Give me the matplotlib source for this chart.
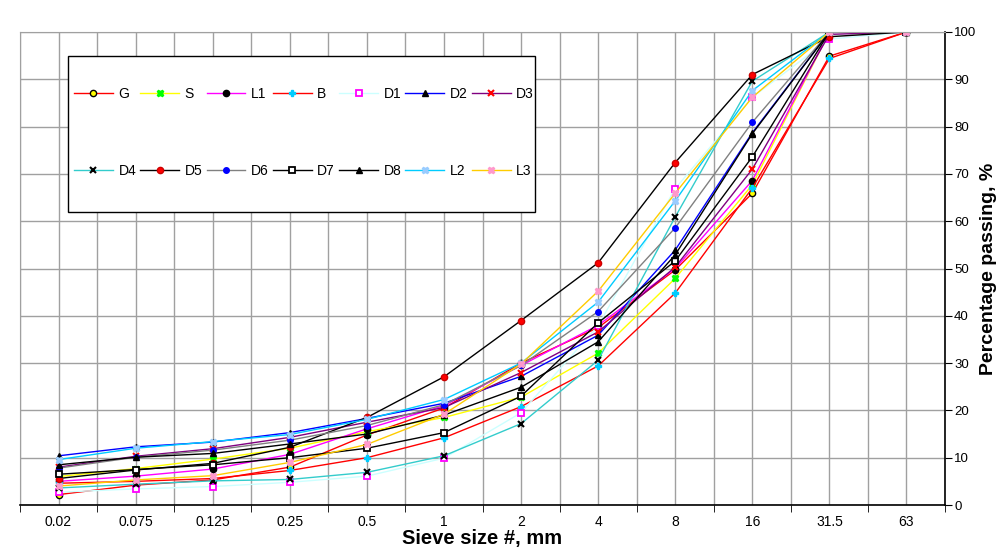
import numpy as np
import matplotlib
matplotlib.use("Agg")
import matplotlib.pyplot as plt
from matplotlib.patches import Rectangle

plt.rcParams['font.family'] = ['Liberation Sans', 'DejaVu Sans']

sizes = ['0.02', '0.075', '0.125', '0.25', '0.5', '1', '2', '4', '8', '16', '31.5', '63']

G  = [2.2, 4.2, 5.3, 8.0, 14.8, 20.5, 30.0, 37.5, 49.7, 65.9, 94.9, 100]
S  = [6.0, 7.7, 9.7, 12.0, 15.5, 18.5, 22.8, 32.1, 47.9, 67.7, 100, 100]
L1 = [5.0, 6.1, 7.6, 10.7, 16.1, 21.0, 29.5, 38.0, 50.0, 68.6, 100, 100]
B  = [4.6, 5.0, 5.6, 7.3, 10.0, 14.2, 20.8, 29.4, 44.8, 67.0, 94.4, 100]
D1 = [2.7, 3.4, 3.9, 4.8, 6.1, 9.9, 19.5, 37.9, 66.9, 86.2, 98.5, 100]
D2 = [10.4, 12.3, 13.3, 15.3, 18.3, 21.5, 27.2, 35.9, 53.9, 78.7, 100, 100]
D3 = [8.0, 10.3, 11.9, 14.3, 17.5, 20.6, 28.0, 36.6, 50.3, 71.0, 99.5, 100]
D4 = [3.6, 4.4, 5.1, 5.4, 6.9, 10.4, 17.2, 30.6, 60.9, 89.6, 100, 100]
D5 = [5.6, 7.4, 8.8, 12.2, 18.5, 27.1, 39.0, 51.2, 72.4, 91.0, 99.0, 100]
D6 = [7.8, 10.1, 11.6, 13.7, 16.8, 21.2, 29.5, 40.9, 58.6, 80.9, 100, 100]
D7 = [6.5, 7.5, 8.5, 10.0, 12.0, 15.3, 23.0, 38.5, 51.6, 73.6, 100, 100]
D8 = [8.5, 10.1, 10.9, 12.9, 15.0, 19.0, 24.9, 34.5, 52.9, 78.5, 100, 100]
L2 = [9.6, 12.0, 13.4, 14.9, 18.1, 22.3, 30.0, 42.9, 64.3, 87.6, 100, 100]
L3 = [4.0, 5.3, 6.2, 9.0, 12.8, 19.2, 29.8, 45.2, 65.9, 86.2, 100, 100]

series = [
    ('G', G,  dict(color='#FF0000', marker='o', mfc='#FFFF00', mec='black', ms=4.5)),
    ('S', S,  dict(color='#FFFF00', marker='X', mfc='#00FF00', mec='#00FF00', ms=5)),
    ('L1', L1, dict(color='#FF00FF', marker='o', mfc='black', mec='black', ms=4.5)),
    ('B', B,  dict(color='#FF0000', marker='P', mfc='#00CCFF', mec='#00CCFF', ms=5)),
    ('D1', D1, dict(color='#CCFFFF', marker='s', mfc='white', mec='#FF00FF', ms=4.5, mew=1.3)),
    ('D2', D2, dict(color='#0000FF', marker='^', mfc='black', mec='black', ms=4.5)),
    ('D3', D3, dict(color='#800080', marker='x', mfc='#FF0000', mec='#FF0000', ms=4.5, mew=1.5)),
    ('D4', D4, dict(color='#33CCCC', marker='x', mfc='black', mec='black', ms=4.5, mew=1.5)),
    ('D5', D5, dict(color='black', marker='o', mfc='#FF0000', mec='#CC0000', ms=4.5)),
    ('D6', D6, dict(color='#808080', marker='o', mfc='#0000FF', mec='#0000FF', ms=4)),
    ('D7', D7, dict(color='black', marker='s', mfc='white', mec='black', ms=4.5, mew=1.3)),
    ('D8', D8, dict(color='black', marker='^', mfc='black', mec='black', ms=4.5)),
    ('L2', L2, dict(color='#00CCFF', marker='X', mfc='#99CCFF', mec='#99CCFF', ms=5)),
    ('L3', L3, dict(color='#FFCC00', marker='X', mfc='#FF99CC', mec='#FF99CC', ms=5)),
]

fig = plt.figure(figsize=(9.98, 5.54), dpi=100)
ax = fig.add_axes([20/998, 1-505/554, 925/998, 473/554])

x = np.arange(len(sizes)) + 0.5
handles = []
for name, vals, st in series:
    h, = ax.plot(x, vals, lw=1.0, label=name, **st)
    handles.append(h)

ax.set_xlim(0, len(sizes))
ax.set_ylim(0, 100)

ax.set_xticks(x)
ax.set_xticklabels(sizes, fontsize=10)
ax.set_xticks(np.arange(len(sizes) + 1), minor=True)
ax.tick_params(axis='x', which='major', length=0, pad=7)
ax.tick_params(axis='x', which='minor', length=5, direction='out', color='black')

ax.yaxis.tick_right()
ax.yaxis.set_label_position('right')
ax.set_yticks(np.arange(0, 101, 10))
ax.tick_params(axis='y', which='major', length=5, direction='out', labelsize=9.5,
               color='black', pad=1.5)

ax.grid(True, which='major', axis='both', color='#A0A0A0', lw=1.0)
ax.grid(True, which='minor', axis='x', color='#A0A0A0', lw=1.0)
ax.set_axisbelow(True)

for side in ['left', 'top']:
    ax.spines[side].set_color('#A0A0A0')
for side in ['right', 'bottom']:
    ax.spines[side].set_color('black')
    ax.spines[side].set_linewidth(1.2)

ax.set_xlabel('Sieve size #, mm', fontsize=14.5, fontweight='bold', labelpad=0)
ax.set_ylabel('Percentage passing, %', fontsize=14, fontweight='bold', labelpad=3)

# legend box drawn separately (wide vertical padding, narrow horizontal padding)
box = Rectangle((48/925, (505-212)/473), 467/925, 156/473, transform=ax.transAxes,
                facecolor='white', edgecolor='black', lw=1.0, zorder=4)
ax.add_patch(box)

# legend filled row-wise (matplotlib fills column-wise)
ncol = 7
order = []
for c in range(ncol):
    order.append(c)
    order.append(c + ncol)
leg = ax.legend([handles[i] for i in order], [series[i][0] for i in order],
                loc='upper left', bbox_to_anchor=(54/925, (505-87)/473, 460/925, 0.0),
                mode='expand', ncol=ncol, fontsize=10, frameon=False,
                borderpad=0, labelspacing=4.56,
                handlelength=2.8, handletextpad=0.4,
                columnspacing=0.6, borderaxespad=0)
leg.set_zorder(5)

fig.savefig('out.png', dpi=100)
